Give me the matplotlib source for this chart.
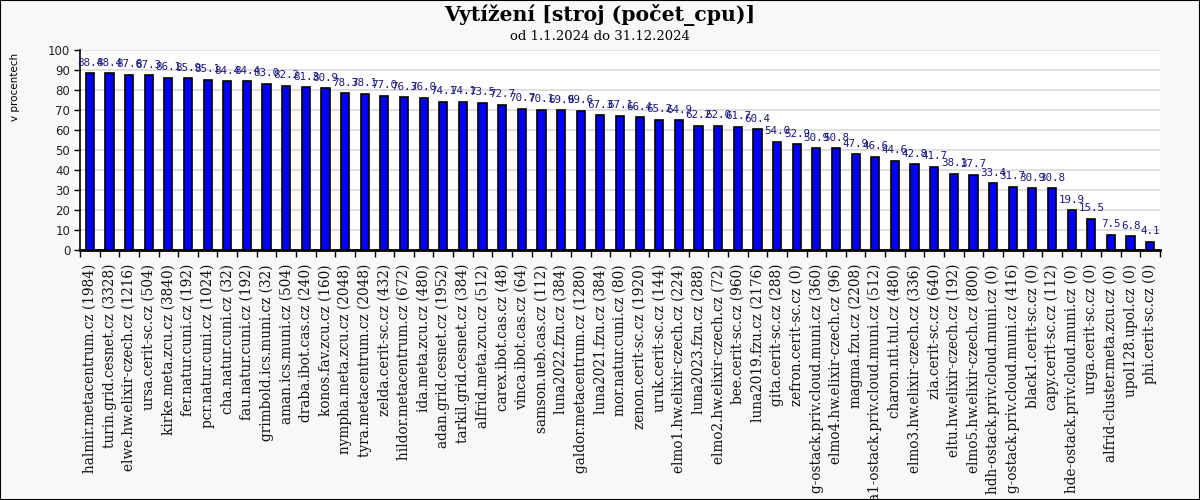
#!/usr/bin/env python

import numpy as np
import matplotlib as mpl
import matplotlib.pyplot as plt
from matplotlib.patches import Rectangle

mpl.rcParams['figure.dpi'] = 100
mpl.rcParams['font.family'] = 'DejaVu Sans'
mpl.rcParams['axes.spines.right'] = False
mpl.rcParams['axes.spines.top'] = False

stroje = [
    "halmir.metacentrum.cz (1984)", "turin.grid.cesnet.cz (3328)",
    "elwe.hw.elixir-czech.cz (1216)", "ursa.cerit-sc.cz (504)",
    "kirke.meta.zcu.cz (3840)", "fer.natur.cuni.cz (192)",
    "pcr.natur.cuni.cz (1024)", "cha.natur.cuni.cz (32)",
    "fau.natur.cuni.cz (192)", "grimbold.ics.muni.cz (32)",
    "aman.ics.muni.cz (504)", "draba.ibot.cas.cz (240)",
    "konos.fav.zcu.cz (160)", "nympha.meta.zcu.cz (2048)",
    "tyra.metacentrum.cz (2048)", "zelda.cerit-sc.cz (432)",
    "hildor.metacentrum.cz (672)", "ida.meta.zcu.cz (480)",
    "adan.grid.cesnet.cz (1952)", "tarkil.grid.cesnet.cz (384)",
    "alfrid.meta.zcu.cz (512)", "carex.ibot.cas.cz (48)",
    "vinca.ibot.cas.cz (64)", "samson.ueb.cas.cz (112)",
    "luna2022.fzu.cz (384)", "galdor.metacentrum.cz (1280)",
    "luna2021.fzu.cz (384)", "mor.natur.cuni.cz (80)",
    "zenon.cerit-sc.cz (1920)", "uruk.cerit-sc.cz (144)",
    "elmo1.hw.elixir-czech.cz (224)", "luna2023.fzu.cz (288)",
    "elmo2.hw.elixir-czech.cz (72)", "bee.cerit-sc.cz (960)",
    "luna2019.fzu.cz (2176)", "gita.cerit-sc.cz (288)",
    "zefron.cerit-sc.cz (0)", "g-ostack.priv.cloud.muni.cz (360)",
    "elmo4.hw.elixir-czech.cz (96)", "magma.fzu.cz (2208)",
    "a1-ostack.priv.cloud.muni.cz (512)", "charon.nti.tul.cz (480)",
    "elmo3.hw.elixir-czech.cz (336)", "zia.cerit-sc.cz (640)",
    "eltu.hw.elixir-czech.cz (192)", "elmo5.hw.elixir-czech.cz (800)",
    "hdh-ostack.priv.cloud.muni.cz (0)", "g-ostack.priv.cloud.muni.cz (416)",
    "black1.cerit-sc.cz (0)", "capy.cerit-sc.cz (112)",
    "hde-ostack.priv.cloud.muni.cz (0)", "urga.cerit-sc.cz (0)",
    "alfrid-cluster.meta.zcu.cz (0)", "upol128.upol.cz (0)",
    "phi.cerit-sc.cz (0)",
]

vytizeni = [
    88.4, 88.4, 87.6, 87.3, 86.1, 85.9, 85.1, 84.4, 84.4, 83.0,
    82.2, 81.3, 80.9, 78.3, 78.1, 77.0, 76.3, 76.0, 74.1, 74.1,
    73.5, 72.7, 70.7, 70.1, 69.9, 69.6, 67.3, 67.1, 66.4, 65.2,
    64.9, 62.2, 62.0, 61.7, 60.4, 54.0, 52.9, 50.9, 50.8, 47.9,
    46.6, 44.6, 42.8, 41.7, 38.1, 37.7, 33.4, 31.7, 30.9, 30.8,
    19.9, 15.5, 7.5, 6.8, 4.1,
]

x = np.arange(len(stroje))

fig = plt.figure(figsize=(12, 5), facecolor='#f8f8f8')
ax = fig.add_axes([80/1200, 0.5, 1080/1200, 0.4])
ax.set_facecolor('white')

ax.bar(x, vytizeni, width=0.42, color='#0000ff', edgecolor='black',
       linewidth=1.2, zorder=3)

# hodnoty nad sloupci
for xi, v in zip(x, vytizeni):
    ax.annotate("%.1f" % v, (xi, v), xytext=(0, 4), textcoords='offset points',
                ha='center', va='bottom', fontsize=7.8, color='#1a1a80',
                family='DejaVu Sans Mono', zorder=4, annotation_clip=False)

ax.set_xlim(-0.5, len(stroje) - 0.5)
ax.set_ylim(0, 100)
ax.set_yticks(np.arange(0, 101, 10))
ax.tick_params(axis='y', labelsize=8.5, length=4, width=1, direction='out',
               labelcolor='#222222', pad=3)
ax.yaxis.grid(True, color='#dcdcdc', linewidth=1.3, zorder=0)

ax.set_xticks(x)
ax.set_xticklabels(stroje, rotation=90, fontsize=9.8, family='DejaVu Serif',
                   color='#111111')
ax.set_xticks(np.arange(-0.5, len(stroje), 1), minor=True)
ax.tick_params(axis='x', which='major', length=0, pad=10)
ax.tick_params(axis='x', which='minor', length=5, width=1, direction='out')

ax.spines['left'].set_linewidth(1.2)
ax.spines['bottom'].set_linewidth(2)

fig.text(0.5, 1 - 15/500, "Vytížení [stroj (počet_cpu)]", ha='center',
         va='center', fontsize=14.7, fontweight='bold', family='DejaVu Serif')
fig.text(0.5, 1 - 37/500, "od 1.1.2024 do 31.12.2024", ha='center',
         va='center', fontsize=9.5, family='DejaVu Serif')
fig.text(15/1200, 1 - 87/500, "v procentech", rotation=90, ha='center',
         va='center', fontsize=7.5)

fig.patches.append(Rectangle((0, 0), 1, 1, transform=fig.transFigure,
                             fill=False, edgecolor='black', linewidth=1.5))

fig.savefig("out.png", facecolor=fig.get_facecolor())
plt.close('all')
